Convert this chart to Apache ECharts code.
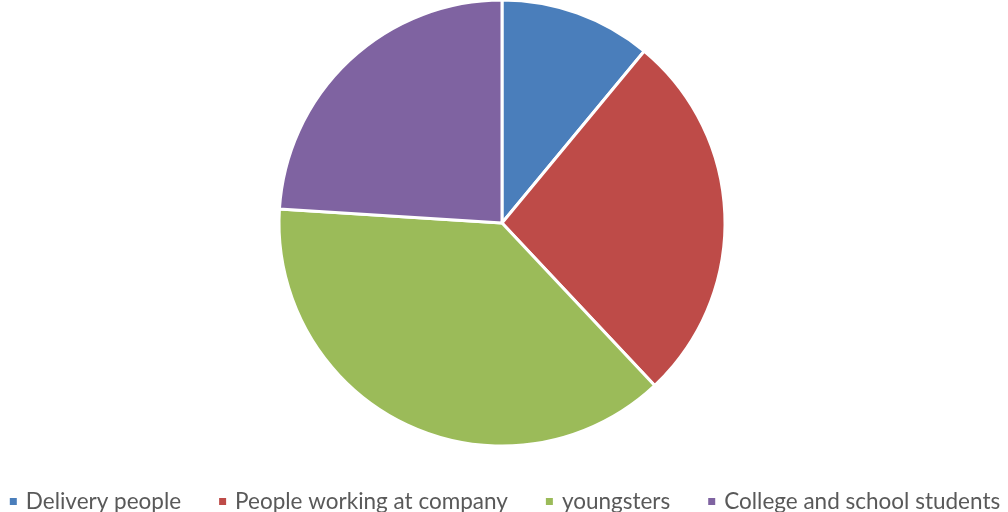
<!DOCTYPE html>
<html>
<head>
<meta charset="utf-8">
<script src="https://cdn.jsdelivr.net/npm/echarts@6/dist/echarts.min.js"></script>
<style>
  html, body { margin: 0; padding: 0; background: #fff; }
  #chart { width: 1008px; height: 512px; }
</style>
</head>
<body>
<div id="chart"></div>
<script>
// Share of each customer group
const categories = ['Delivery people', 'People working at company', 'youngsters', 'College and school students'];
const values = [11, 27, 38, 24];
const colors = ['#4A7EBB', '#BE4B48', '#9BBB59', '#7F63A1'];

const chart = echarts.init(document.getElementById('chart'));
chart.setOption({
  animation: false,
  color: colors,
  legend: {
    bottom: -6,
    left: 'center',
    itemWidth: 9,
    itemHeight: 9,
    itemGap: 36,
    icon: 'rect',
    textStyle: { fontFamily: 'Lato', fontSize: 22.5, color: '#595959', padding: [0, 0, 0, 3] },
    data: categories
  },
  series: [{
    type: 'pie',
    center: [502, 223],
    radius: 223,
    startAngle: 90,
    clockwise: true,
    label: { show: false },
    labelLine: { show: false },
    itemStyle: { borderColor: '#ffffff', borderWidth: 3 },
    data: categories.map((name, i) => ({ name, value: values[i] }))
  }]
});
</script>
</body>
</html>
